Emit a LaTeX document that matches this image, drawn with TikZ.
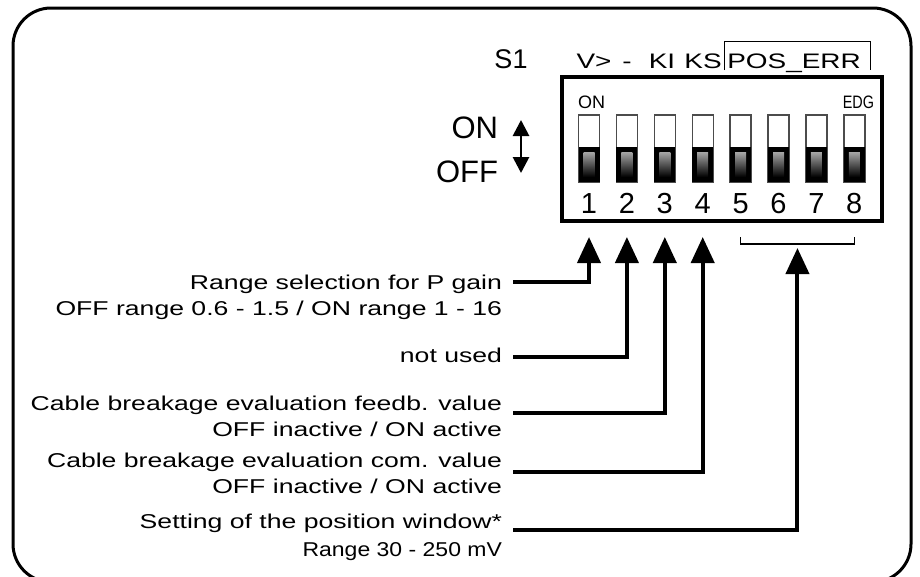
\documentclass[tikz,border=0pt]{standalone}
\usepackage{fontspec}
\setmainfont{Liberation Sans}
\newfontfamily\widefont{Liberation Sans}[FakeStretch=1.33]
\newfontfamily\midfont{Liberation Sans}[FakeStretch=1.15]
\newfontfamily\narrowfont{Liberation Sans}[FakeStretch=0.8]
\usetikzlibrary{arrows.meta, positioning, calc}

\begin{document}
\begin{tikzpicture}[
    x=1pt, y=-1pt,
    every node/.style={inner sep=0pt, outer sep=0pt},
    frame/.style={draw=black, line width=3pt, rounded corners=38pt},
    dipbox/.style={draw=black, line width=4pt, minimum width=320pt, minimum height=144pt},
    slot/.style={draw=black!70, line width=1.4pt, fill=white, minimum width=21pt, minimum height=67pt},
    knob/.style={fill=black, minimum width=21pt, minimum height=35pt},
    grip/.style={top color=black!35, bottom color=black, minimum width=11pt, minimum height=25pt},
    num/.style={font=\fontsize{29}{31}\selectfont, anchor=base},
    tag/.style={font=\widefont\fontsize{21}{24}\selectfont, anchor=base},
    desc/.style={font=\widefont\fontsize{20}{26}\selectfont, align=right, anchor=base east},
    lead/.style={draw=black, line width=4pt, -{Triangle[width=23pt, length=26pt]}},
    bracket/.style={draw=black, line width=1.2pt},
    updown/.style={draw=black, line width=2.8pt, {Triangle[width=16pt, length=16pt]}-{Triangle[width=16pt, length=16pt]}}
]
\useasboundingbox (0,0) rectangle (920,576);

% ==================== OUTER FRAME ====================
\draw[frame] (13,8) rectangle (911,582);

% ==================== SWITCH HEADER ====================
\node[anchor=base, font=\fontsize{27}{29}\selectfont] (s1) at (511,68) {S1};
\node[tag] (vmax) at (594,68) {V>};
\node[tag] (unused) at (627,68) {-};
\node[tag] (ki) at (662,68) {KI};
\node[tag] (ks) at (703,68) {KS};
\node[tag] (poserr) at (794,68) {POS\_ERR};
\draw[line width=1pt] (724,70) -- (724,41) -- (870,41) -- (870,70);

% ==================== ON / OFF ====================
\node[anchor=base east, font=\fontsize{31}{33}\selectfont] (on) at (498,138) {ON};
\node[anchor=base east, font=\fontsize{31}{33}\selectfont] (off) at (498,182) {OFF};
\draw[updown] (521,120) -- (521,173);

% ==================== DIP SWITCH BLOCK ====================
\node[dipbox] (dip) at (722,149) {};
\node[anchor=base west, font=\fontsize{18}{20}\selectfont] (onmark) at (578,108) {ON};
\node[anchor=base east, font=\narrowfont\fontsize{18}{20}\selectfont] (edg) at (874,108) {EDG};

\foreach \i in {1,...,8} {
    \pgfmathsetmacro\xc{589+37.9*(\i-1)}
    \node[slot] (sw\i) at (\xc,148.5) {};
    \node[knob] (kn\i) at (\xc,164.5) {};
    \node[grip] at (\xc,164.5) {};
    \node[num] (n\i) at (\xc,213) {\i};
    \coordinate (t\i) at (\xc,237);
}
\draw[bracket] (t5) -- ++(0,7) -| (t8);
\coordinate (t58) at ($(t5)!0.5!(t8)+(0,11)$);

% ==================== DESCRIPTIONS ====================
% (base anchor = baseline of the last line)
\node[desc] (d1) at (502,315) {Range selection for P gain\\OFF range 0.6 - 1.5 / ON range 1 - 16};
\node[desc] (d2) at (502,362) {not used};
\node[desc] (d3) at (502,436) {Cable breakage evaluation feedb. value\\OFF inactive / ON active};
\node[desc] (d4) at (502,493) {Cable breakage evaluation com. value\\OFF inactive / ON active};
\node[desc] (d5) at (502,556) {Setting of the position window*\\[2pt]{\midfont Range 30 - 250 mV}};

\draw[lead] ([xshift=11pt, yshift=33pt]d1.base east) -| (t1);
\draw[lead] ([xshift=11pt, yshift=5pt]d2.base east) -| (t2);
\draw[lead] ([xshift=11pt, yshift=23pt]d3.base east) -| (t3);
\draw[lead] ([xshift=11pt, yshift=21pt]d4.base east) -| (t4);
\draw[lead] ([xshift=11pt, yshift=26pt]d5.base east) -| (t58);

\end{tikzpicture}
\end{document}
